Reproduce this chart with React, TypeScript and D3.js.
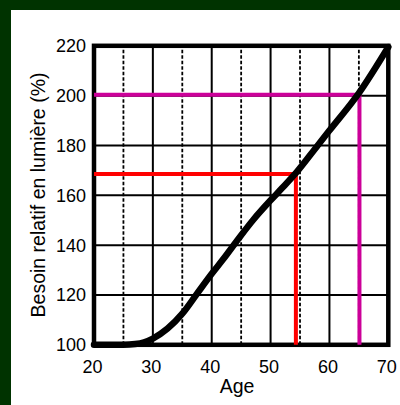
import React from "react";
import * as d3 from "d3";

const ages = [20, 25, 27, 28.5, 30, 32.5, 35, 37.5, 40, 42, 45, 47, 50, 52, 54.5, 58, 60, 65, 70];
const need = [100, 100, 100.3, 101, 102.5, 106.5, 112.5, 120.5, 128.5, 134.5, 144, 150, 158, 163, 169.5, 180, 186, 201, 219.5];

const xTicks = [20, 30, 40, 50, 60, 70];
const xMinor = [25, 35, 45, 55, 65];
const yTicks = [100, 120, 140, 160, 180, 200, 220];

const redMark = { age: 54.3, value: 168.5 };
const magentaMark = { age: 65.1, value: 200.4 };

const xLabel = "Age";
const yLabel = "Besoin relatif en lumière (%)";

export default function App() {
  const W = 400;
  const H = 405;
  const x = d3.scaleLinear().domain([20, 70]).range([94, 388.3]);
  const y = d3.scaleLinear().domain([100, 220]).range([344.8, 45.8]);
  const font = "'Liberation Sans', Arial, Helvetica, sans-serif";

  const line = d3
    .line<number>()
    .x((_, i) => x(ages[i]))
    .y((d) => y(d))
    .curve(d3.curveMonotoneX);

  return (
    <svg width={W} height={H} style={{ position: "absolute", left: 0, top: 0 }}>
      <rect x={0} y={0} width={W} height={H} fill="#003300" />
      <rect x={11} y={10} width={W - 11} height={H - 10} fill="#ffffff" />

      {/* horizontal grid */}
      {yTicks.slice(1, -1).map((t) => (
        <line key={"h" + t} x1={x(20)} x2={x(70)} y1={y(t)} y2={y(t)} stroke="#000" strokeWidth={2} />
      ))}
      {/* vertical solid grid */}
      {xTicks.slice(1, -1).map((t) => (
        <line key={"v" + t} x1={x(t)} x2={x(t)} y1={y(100)} y2={y(220)} stroke="#000" strokeWidth={2} />
      ))}
      {/* vertical dashed grid */}
      {xMinor.map((t) => (
        <line
          key={"d" + t}
          x1={x(t)}
          x2={x(t)}
          y1={y(100)}
          y2={y(220)}
          stroke="#000"
          strokeWidth={1.8}
          strokeDasharray="3.5,2"
        />
      ))}

      {/* frame */}
      <rect
        x={x(20)}
        y={y(220)}
        width={x(70) - x(20)}
        height={y(100) - y(220)}
        fill="none"
        stroke="#000"
        strokeWidth={4.5}
      />

      {/* highlight lines */}
      <polyline
        points={`${x(20)},${y(redMark.value)} ${x(redMark.age)},${y(redMark.value)} ${x(redMark.age)},${y(100)}`}
        fill="none"
        stroke="#ff0000"
        strokeWidth={4}
      />
      <polyline
        points={`${x(20)},${y(magentaMark.value)} ${x(magentaMark.age)},${y(magentaMark.value)} ${x(magentaMark.age)},${y(100)}`}
        fill="none"
        stroke="#cc0099"
        strokeWidth={4}
      />

      {/* curve */}
      <path d={line(need) || ""} fill="none" stroke="#000" strokeWidth={6.5} strokeLinecap="round" strokeLinejoin="round" />

      {/* y tick labels */}
      {yTicks.map((t) => (
        <text key={"yl" + t} x={86} y={y(t) + 6.5} textAnchor="end" fontFamily={font} fontSize={18} fill="#000">
          {t}
        </text>
      ))}
      {/* x tick labels */}
      {xTicks.map((t) => (
        <text key={"xl" + t} x={x(t) - 1.5} y={372.5} textAnchor="middle" fontFamily={font} fontSize={18} fill="#000">
          {t}
        </text>
      ))}

      <text x={237} y={393.3} textAnchor="middle" fontFamily={font} fontSize={19.5} fill="#000">
        {xLabel}
      </text>
      <text
        transform="translate(45,195) rotate(-90)"
        textAnchor="middle"
        fontFamily={font}
        fontSize={19.5}
        fill="#000"
      >
        {yLabel}
      </text>
    </svg>
  );
}
